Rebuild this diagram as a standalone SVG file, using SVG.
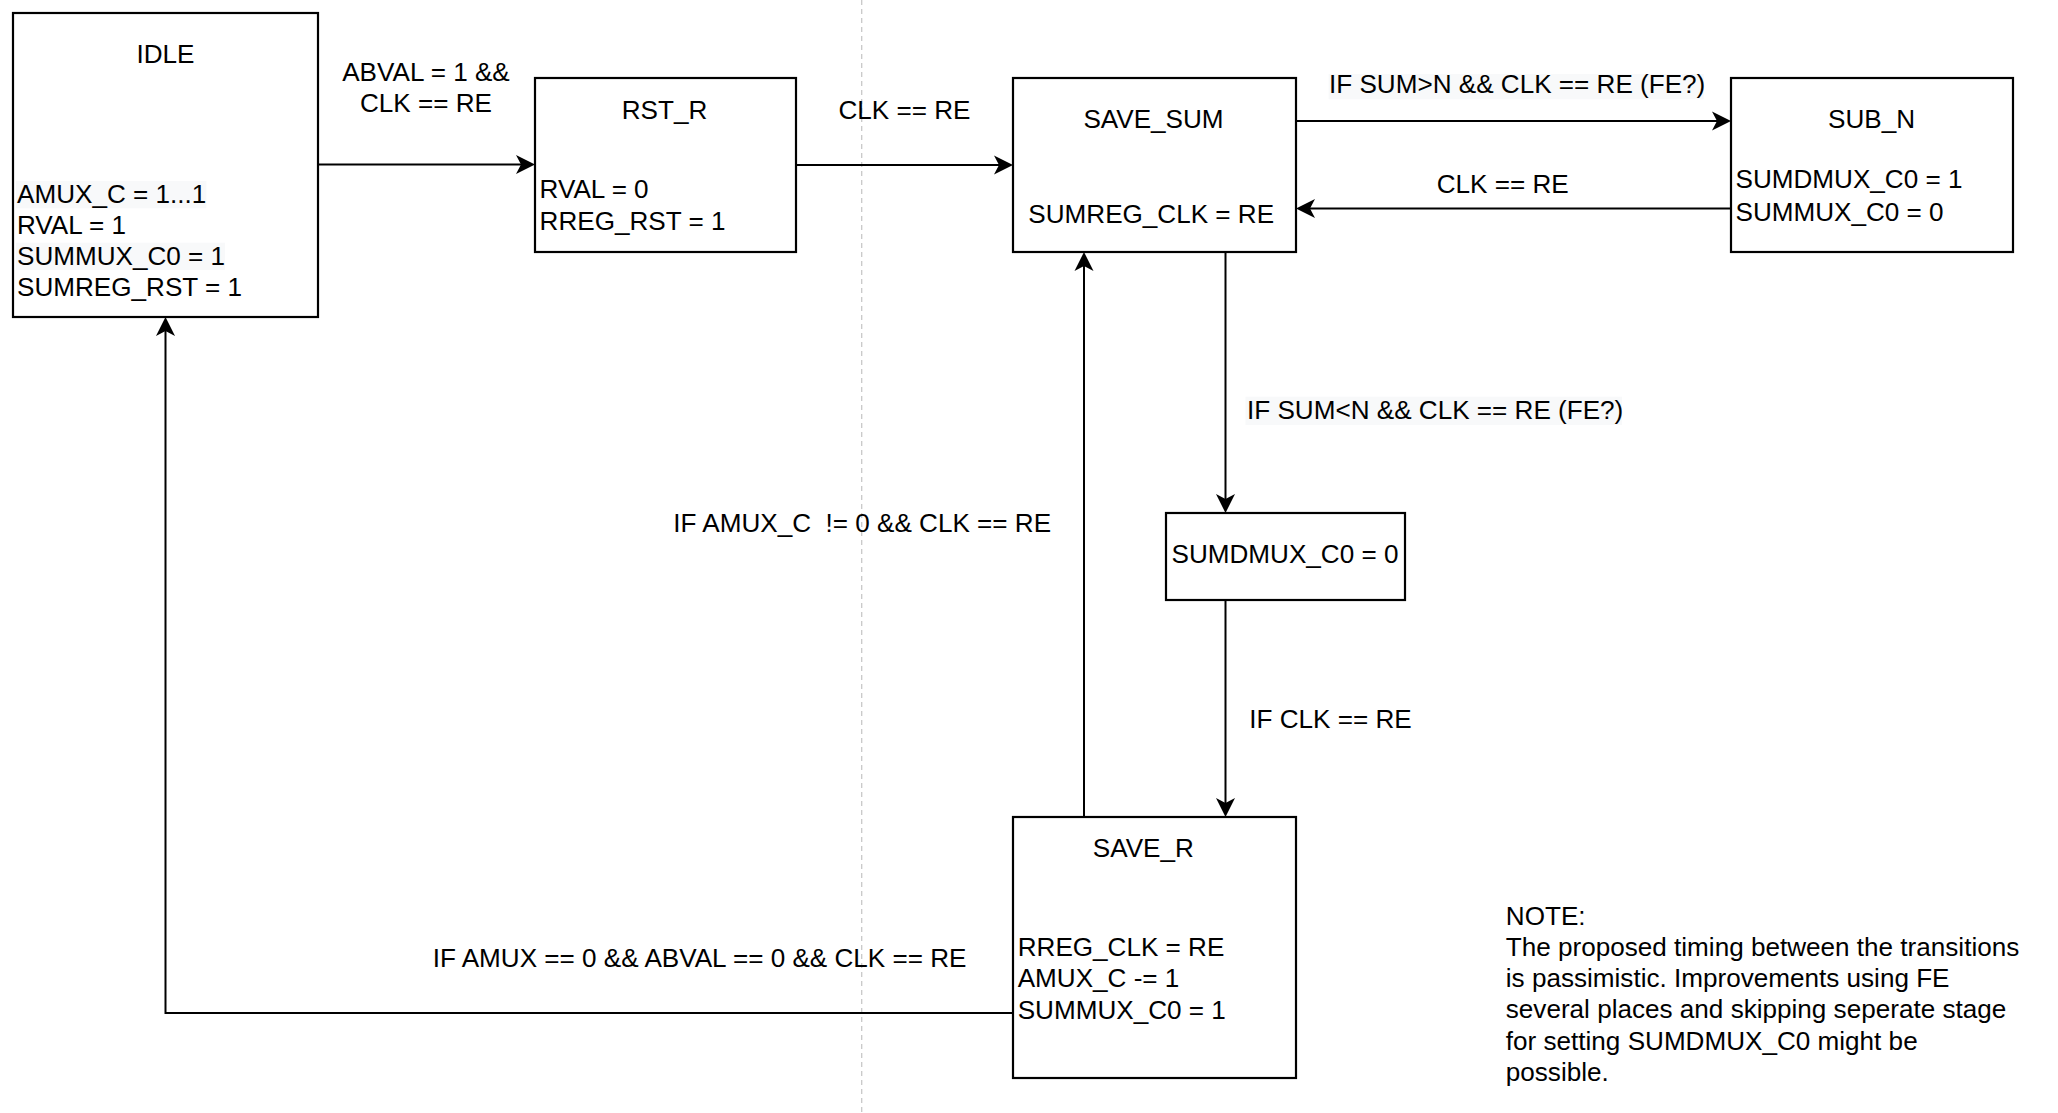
<svg xmlns="http://www.w3.org/2000/svg" width="2058" height="1113" viewBox="0 0 2058 1113">
  <style>
    text { font-family: "Liberation Sans", Arial, Helvetica, sans-serif; font-size: 26.1px; fill: #000; }
    .c { text-anchor: middle; }
    .pre { white-space: pre; }
    .box { fill: #fff; stroke: #000; stroke-width: 2.2; }
    .edge { fill: none; stroke: #000; stroke-width: 2; marker-end: url(#arrow); }
    .lblbg { fill: #f8f9fa; }
  </style>
  <defs>
    <!-- classic arrowhead; origin sits at the notch, tip 14px ahead -->
    <marker id="arrow" markerUnits="userSpaceOnUse" orient="auto" refX="0" refY="0" markerWidth="20" markerHeight="20" overflow="visible">
      <path d="M14,0 L-5,-9.5 L0,0 L-5,9.5 Z" fill="#000"/>
    </marker>
  </defs>

  <rect width="2058" height="1113" fill="#fff"/>

  <!-- page divider -->
  <line x1="861.7" y1="0" x2="861.7" y2="1113" stroke="#c8c8c8" stroke-width="1.3" stroke-dasharray="5 4"/>

  <g id="connectors">
    <path class="edge" d="M318,164.5 H521"/>
    <path class="edge" d="M796,165 H999"/>
    <path class="edge" d="M1296,121 H1717"/>
    <path class="edge" d="M1731,208.5 H1310"/>
    <path class="edge" d="M1225.5,252 V499"/>
    <path class="edge" d="M1225.5,600 V803"/>
    <path class="edge" d="M1084,817 V266"/>
    <path class="edge" d="M1013,1013 H165.5 V331"/>

    <text class="c" x="426" y="80.7">ABVAL = 1 &amp;&amp;</text>
    <text class="c" x="426" y="112">CLK == RE</text>
    <text class="c" x="904.5" y="119">CLK == RE</text>
    <rect class="lblbg" x="1328.6" y="74" width="375.2" height="25.3"/>
    <text x="1329" y="93.3">IF SUM&gt;N &amp;&amp; CLK == RE (FE?)</text>
    <text class="c" x="1502.7" y="193.3">CLK == RE</text>
    <rect class="lblbg" x="1245.5" y="396.7" width="376.5" height="28.3"/>
    <text x="1247" y="419.3">IF SUM&lt;N &amp;&amp; CLK == RE (FE?)</text>
    <text class="pre" x="673.3" y="531.7">IF AMUX_C  != 0 &amp;&amp; CLK == RE</text>
    <text x="1249.3" y="727.7">IF CLK == RE</text>
    <text x="432.7" y="966.7">IF AMUX == 0 &amp;&amp; ABVAL == 0 &amp;&amp; CLK == RE</text>
  </g>

  <g id="idle">
    <rect class="box" x="13" y="13" width="305" height="304"/>
    <rect class="lblbg" x="16" y="181" width="190.4" height="27.3"/>
    <rect class="lblbg" x="16" y="242.7" width="209" height="27.3"/>
    <text class="c" x="165.5" y="62.7">IDLE</text>
    <text x="17" y="203">AMUX_C = 1...1</text>
    <text x="17" y="234">RVAL = 1</text>
    <text x="17" y="265">SUMMUX_C0 = 1</text>
    <text x="17" y="296">SUMREG_RST = 1</text>
  </g>

  <g id="rst_r">
    <rect class="box" x="535" y="78" width="261" height="174"/>
    <text class="c" x="664.5" y="119.3">RST_R</text>
    <text x="539.6" y="197.7">RVAL = 0</text>
    <text x="539.6" y="229.7">RREG_RST = 1</text>
  </g>

  <g id="save_sum">
    <rect class="box" x="1013" y="78" width="283" height="174"/>
    <text class="c" x="1153.5" y="128.3">SAVE_SUM</text>
    <text x="1028.3" y="223.3">SUMREG_CLK = RE</text>
  </g>

  <g id="sub_n">
    <rect class="box" x="1731" y="78" width="282" height="174"/>
    <text class="c" x="1871.5" y="128.3">SUB_N</text>
    <text x="1735.5" y="188.3">SUMDMUX_C0 = 1</text>
    <text x="1735.5" y="220.7">SUMMUX_C0 = 0</text>
  </g>

  <g id="sumdmux">
    <rect class="box" x="1166" y="513" width="239" height="87"/>
    <text class="c" x="1285" y="562.7">SUMDMUX_C0 = 0</text>
  </g>

  <g id="save_r">
    <rect class="box" x="1013" y="817" width="283" height="261"/>
    <text class="c" x="1143.3" y="857.3">SAVE_R</text>
    <text x="1017.7" y="956">RREG_CLK = RE</text>
    <text x="1017.7" y="987.3">AMUX_C -= 1</text>
    <text x="1017.7" y="1018.7">SUMMUX_C0 = 1</text>
  </g>

  <g id="note">
    <text x="1505.8" y="924.5">NOTE:</text>
    <text x="1505.8" y="955.8">The proposed timing between the transitions</text>
    <text x="1505.8" y="987.1">is passimistic. Improvements using FE</text>
    <text x="1505.8" y="1018.4">several places and skipping seperate stage</text>
    <text x="1505.8" y="1049.7">for setting SUMDMUX_C0 might be</text>
    <text x="1505.8" y="1081">possible.</text>
  </g>
</svg>
